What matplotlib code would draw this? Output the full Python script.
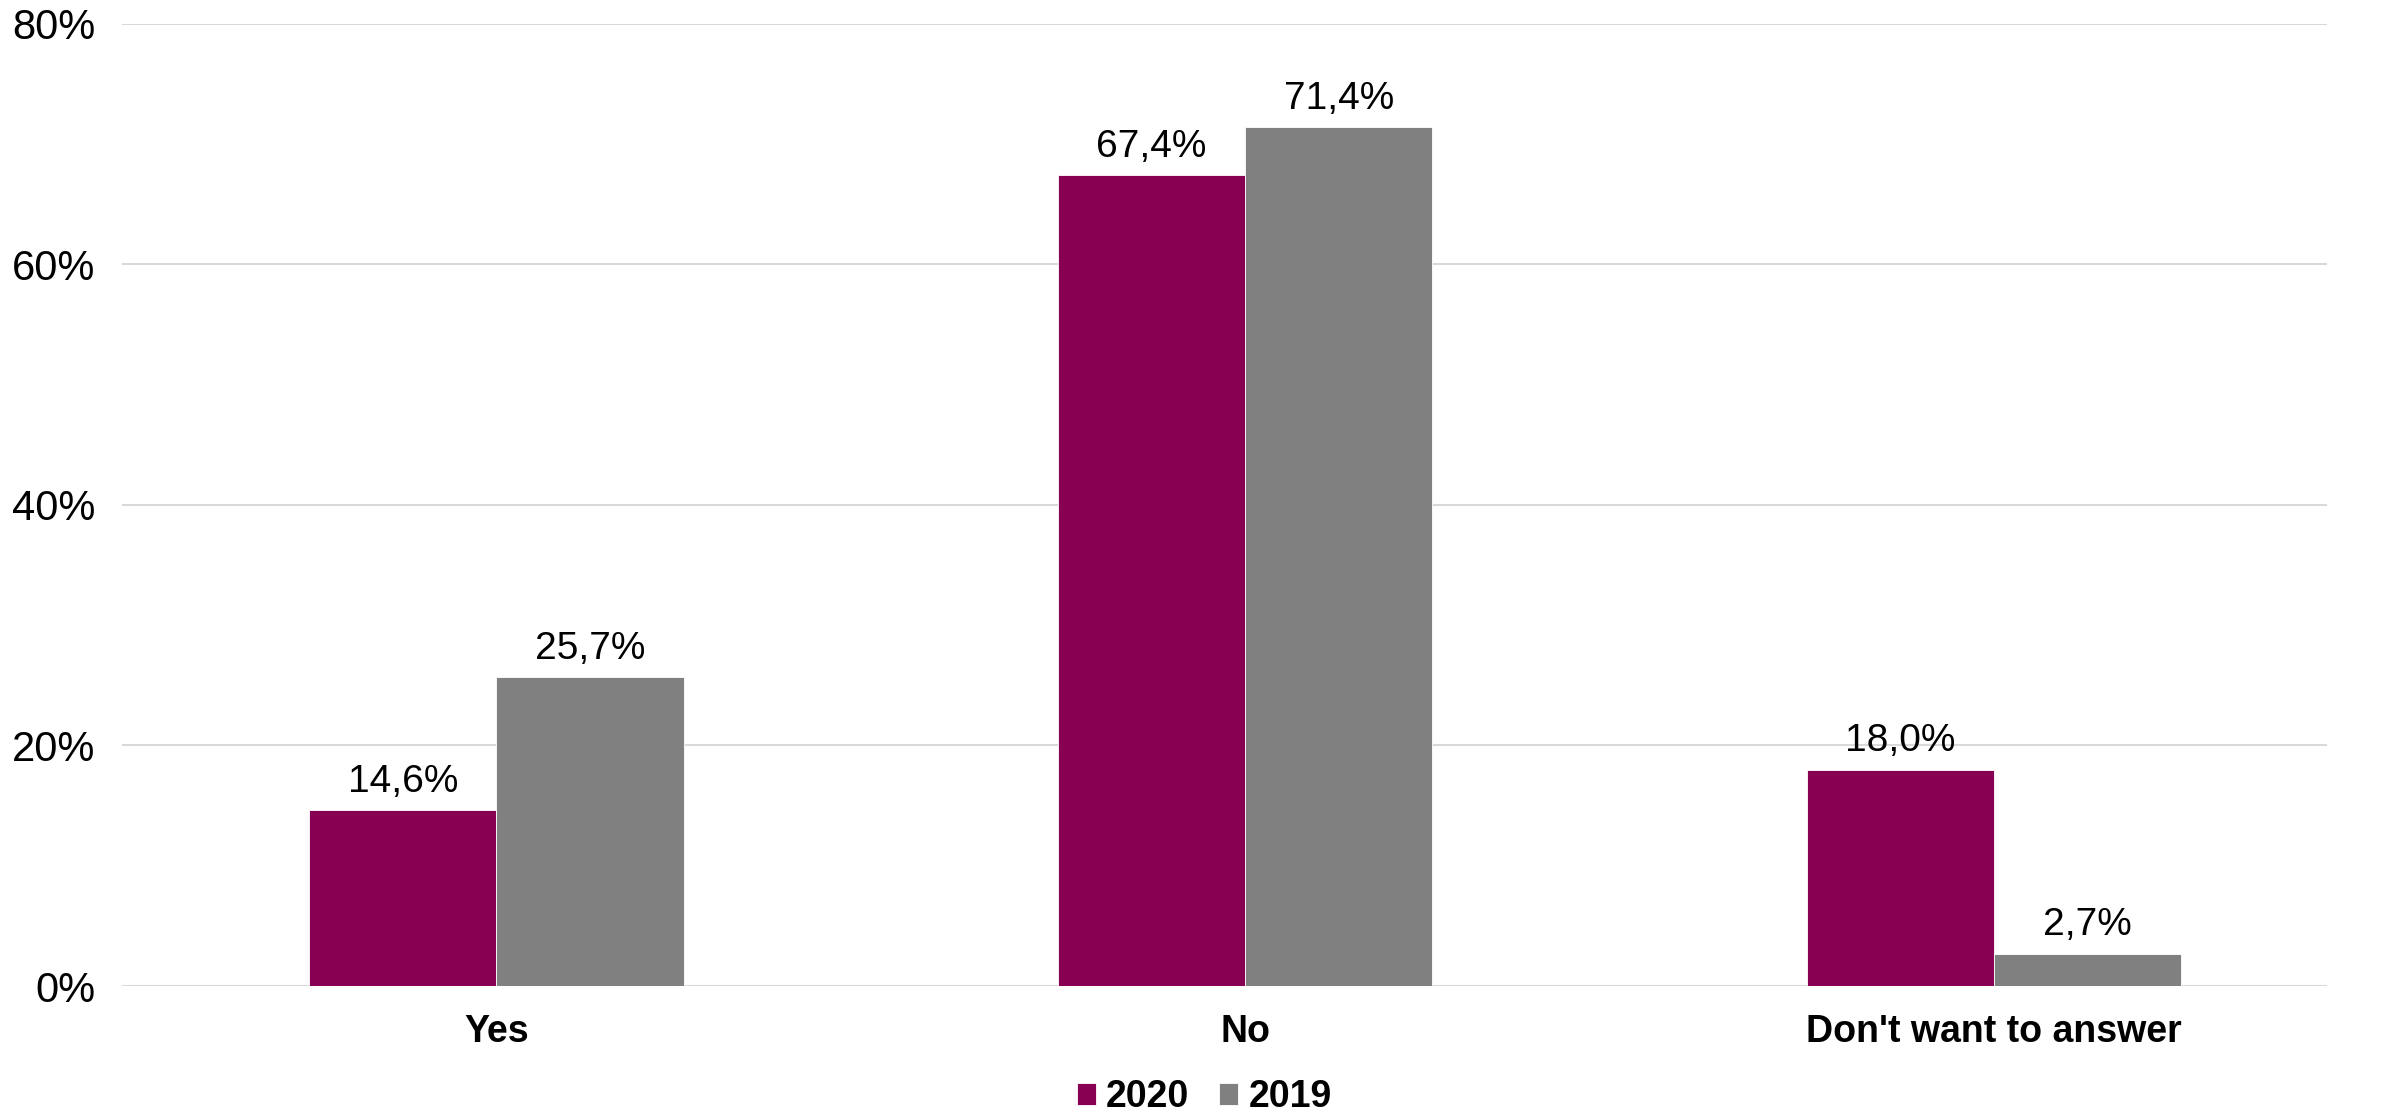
import numpy as np
import matplotlib.pyplot as plt

plt.rcParams['font.family'] = ['Liberation Sans', 'DejaVu Sans']

categories = ["Yes", "No", "Don't want to answer"]
years = ['2020', '2019']
vals_2020 = [14.6, 67.4, 18.0]
vals_2019 = [25.7, 71.4, 2.7]
colors = ['#870051', '#808080']

fig = plt.figure(figsize=(23.85, 11.14), dpi=100)
ax = fig.add_axes([0.0512, 0.1149, 0.9245, 0.8636])

x = np.arange(len(categories))
w = 0.25
for i, (vals, yr) in enumerate(zip([vals_2020, vals_2019], years)):
    bars = ax.bar(x + (i - 0.5) * w, vals, w, color=colors[i], label=yr,
                  edgecolor='white', linewidth=0.6, zorder=3)
    for b, v in zip(bars, vals):
        ax.annotate(f'{v:.1f}%'.replace('.', ','),
                    (b.get_x() + b.get_width() / 2, v),
                    xytext=(0, 13), textcoords='offset points',
                    ha='center', va='baseline', fontsize=28)

ax.set_xlim(-0.5, 2.445)
ax.set_ylim(0, 80)
ax.set_yticks(range(0, 81, 20))
ax.set_yticklabels([f'{t}%' for t in range(0, 81, 20)], fontsize=30)
ax.set_xticks(x)
ax.set_xticklabels(categories, fontsize=27, fontweight='bold')
ax.tick_params(axis='both', length=0)
ax.tick_params(axis='y', pad=19)
ax.tick_params(axis='x', pad=20)
ax.grid(axis='y', color='#d9d9d9', linewidth=1.5, zorder=0)
for s in ax.spines.values():
    s.set_visible(False)

leg = fig.legend(loc='center', bbox_to_anchor=(0.505, 0.015), ncol=2,
                 frameon=False, handlelength=0.5, handleheight=0.5,
                 handletextpad=0.28, columnspacing=0.8,
                 prop={'size': 27, 'weight': 'bold'})

fig.savefig('out.png', dpi=100)
